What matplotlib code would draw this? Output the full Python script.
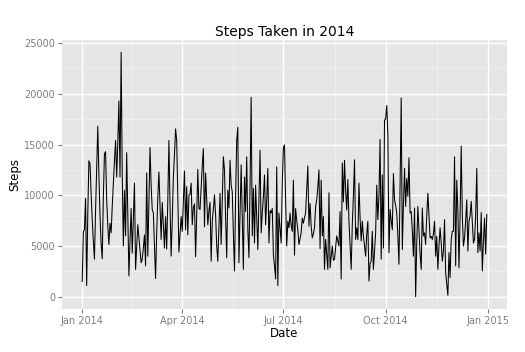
"""
Steps taken per day in 2014, drawn in the old ggplot2 grey look.
"""
import numpy as np
import pandas as pd
import matplotlib as mpl
mpl.use("Agg")
import matplotlib.pyplot as plt
import matplotlib.dates as mdates

############################
#% DATA (daily steps, one list per month)
############################
jan = [1500, 6400, 6600, 9700, 1100, 8200, 13400, 13100, 10200, 7600,
       5500, 3700, 8500, 12600, 16800, 12000, 8000, 5200, 3750, 9800,
       14100, 14300, 9600, 7000, 5150, 7250, 6300, 8900, 11200, 13400, 15400]
feb = [11800, 15200, 19300, 11800, 24100, 12000, 5000, 10500, 6000, 14200,
       8000, 2050, 5600, 8700, 4300, 7800, 11200, 2700, 4900, 7100,
       5800, 4600, 3350, 3700, 4800, 6100, 3050, 12200]
mar = [4000, 9500, 14700, 11000, 8600, 8250, 5000, 1800, 6200, 9800,
       12300, 9000, 5650, 9300, 7000, 4800, 7900, 4700, 9500, 15400,
       9000, 4000, 7500, 11800, 14000, 16550, 15400, 9800, 4400, 6100, 7900]
apr = [6450, 9300, 12400, 6600, 10850, 6100, 10000, 10100, 11200, 7100,
       8800, 9150, 3950, 8000, 12550, 8700, 8600, 10800, 12900, 14600,
       6900, 12200, 9600, 7100, 8500, 9300, 3500, 7450, 8600, 10050]
may = [8100, 5000, 3500, 7000, 10200, 5150, 9500, 13800, 12500, 7800,
       3850, 10500, 8750, 13450, 11000, 10350, 6200, 2550, 9800, 15400,
       16700, 3350, 8400, 13000, 7600, 2700, 11800, 8400, 13800, 6600, 3850]
jun = [11000, 19650, 6000, 10700, 5300, 11000, 7800, 4650, 9800, 14450,
       6300, 8250, 9800, 12000, 7100, 9600, 12650, 5300, 8500, 8250,
       8700, 4150, 3050, 1750, 12800, 1100, 8250, 6800, 5300, 11200]
jul = [14700, 14950, 9500, 5000, 7450, 6800, 8250, 7000, 6450, 11500,
       4100, 8700, 7500, 6600, 5150, 5700, 6300, 7750, 7250, 7800,
       8250, 10500, 12900, 6950, 9200, 6950, 5800, 6200, 6800, 8900, 9550]
aug = [10800, 12500, 4750, 11500, 6000, 7900, 2700, 5650, 4200, 2700,
       10250, 2850, 4000, 5000, 3600, 3700, 4800, 6000, 5500, 5000,
       8400, 1750, 13200, 9350, 13450, 10500, 8550, 11550, 7450, 5000, 2700]
sep = [7100, 10000, 13500, 5650, 6800, 5650, 11200, 7800, 5500, 7450,
       6000, 5000, 4000, 6200, 7450, 1550, 3300, 3500, 6450, 2700,
       4500, 6300, 11000, 7600, 10000, 15500, 3700, 12000, 4800, 17400]
oct_ = [17550, 18850, 15950, 4350, 8600, 7500, 6600, 12150, 9550, 9000,
        8250, 6000, 3200, 11000, 19600, 4650, 9000, 12650, 8900, 11650,
        9900, 13700, 8250, 8400, 6500, 4000, 8750, 0, 5300, 8900, 6500]
nov = [4200, 2700, 8750, 6000, 6300, 5150, 8000, 10200, 7900, 5800,
       5950, 5650, 6200, 7450, 4000, 5950, 2700, 5000, 6800, 5300,
       3500, 4500, 7600, 2400, 1200, 150, 4350, 1900, 5650, 6450]
dec = [6450, 13800, 3050, 11500, 8600, 2850, 8000, 14850, 7900, 5000,
       5800, 7500, 9550, 4500, 7450, 8000, 9400, 7250, 5300, 5650,
       8000, 12650, 4350, 6300, 4500, 8300, 2550, 5500, 7750, 4200, 8100]

steps = jan + feb + mar + apr + may + jun + jul + aug + sep + oct_ + nov + dec
dates = pd.date_range("2014-01-01", "2014-12-31", freq="D")
assert len(steps) == len(dates)

y_breaks = [0, 5000, 10000, 15000, 20000, 25000]
x_breaks = ["2014-01-01", "2014-04-01", "2014-07-01", "2014-10-01", "2015-01-01"]
x_labels = ["Jan 2014", "Apr 2014", "Jul 2014", "Oct 2014", "Jan 2015"]

############################
#% PLOT
############################
panel_bg = "#E5E5E5"
minor_col = "#F2F2F2"
tick_col = "#7F7F7F"

fig = plt.figure(figsize=(5.25, 3.52), dpi=100)
ax = fig.add_axes((62 / 525, 1 - 309 / 352, 445 / 525, 269 / 352))
ax.set_facecolor(panel_bg)
for s in ax.spines.values():
    s.set_visible(False)

ax.plot(dates, steps, color="black", lw=0.75, zorder=3)

# limits with ggplot's 5% expansion
d0, d1 = mdates.date2num(dates[0]), mdates.date2num(dates[-1])
pad = 0.05 * (d1 - d0)
ax.set_xlim(d0 - pad, d1 + pad)
ymax = max(steps)
ax.set_ylim(-0.05 * ymax, ymax * 1.05)

xmaj = [mdates.date2num(pd.Timestamp(d)) for d in x_breaks]
xmin = [(a + b) / 2 for a, b in zip(xmaj[:-1], xmaj[1:])]
ax.set_xticks(xmaj)
ax.set_xticklabels(x_labels)
ax.set_xticks(xmin, minor=True)
ax.set_yticks(y_breaks)
ax.set_yticks([b + 2500 for b in y_breaks[:-1]], minor=True)

ax.grid(which="major", color="white", lw=1.0, zorder=0)
ax.grid(which="minor", color=minor_col, lw=0.5, zorder=0)
ax.set_axisbelow(True)

ax.tick_params(which="major", length=3, width=0.8, color=tick_col,
               labelcolor=tick_col, labelsize=7, pad=2)
ax.tick_params(which="minor", length=0)

ax.set_title("Steps Taken in 2014", fontsize=10, pad=3)
ax.set_xlabel("Date", fontsize=8.5, labelpad=1)
ax.set_ylabel("Steps", fontsize=8.5, labelpad=2)

fig.savefig("out.png", dpi=100)
